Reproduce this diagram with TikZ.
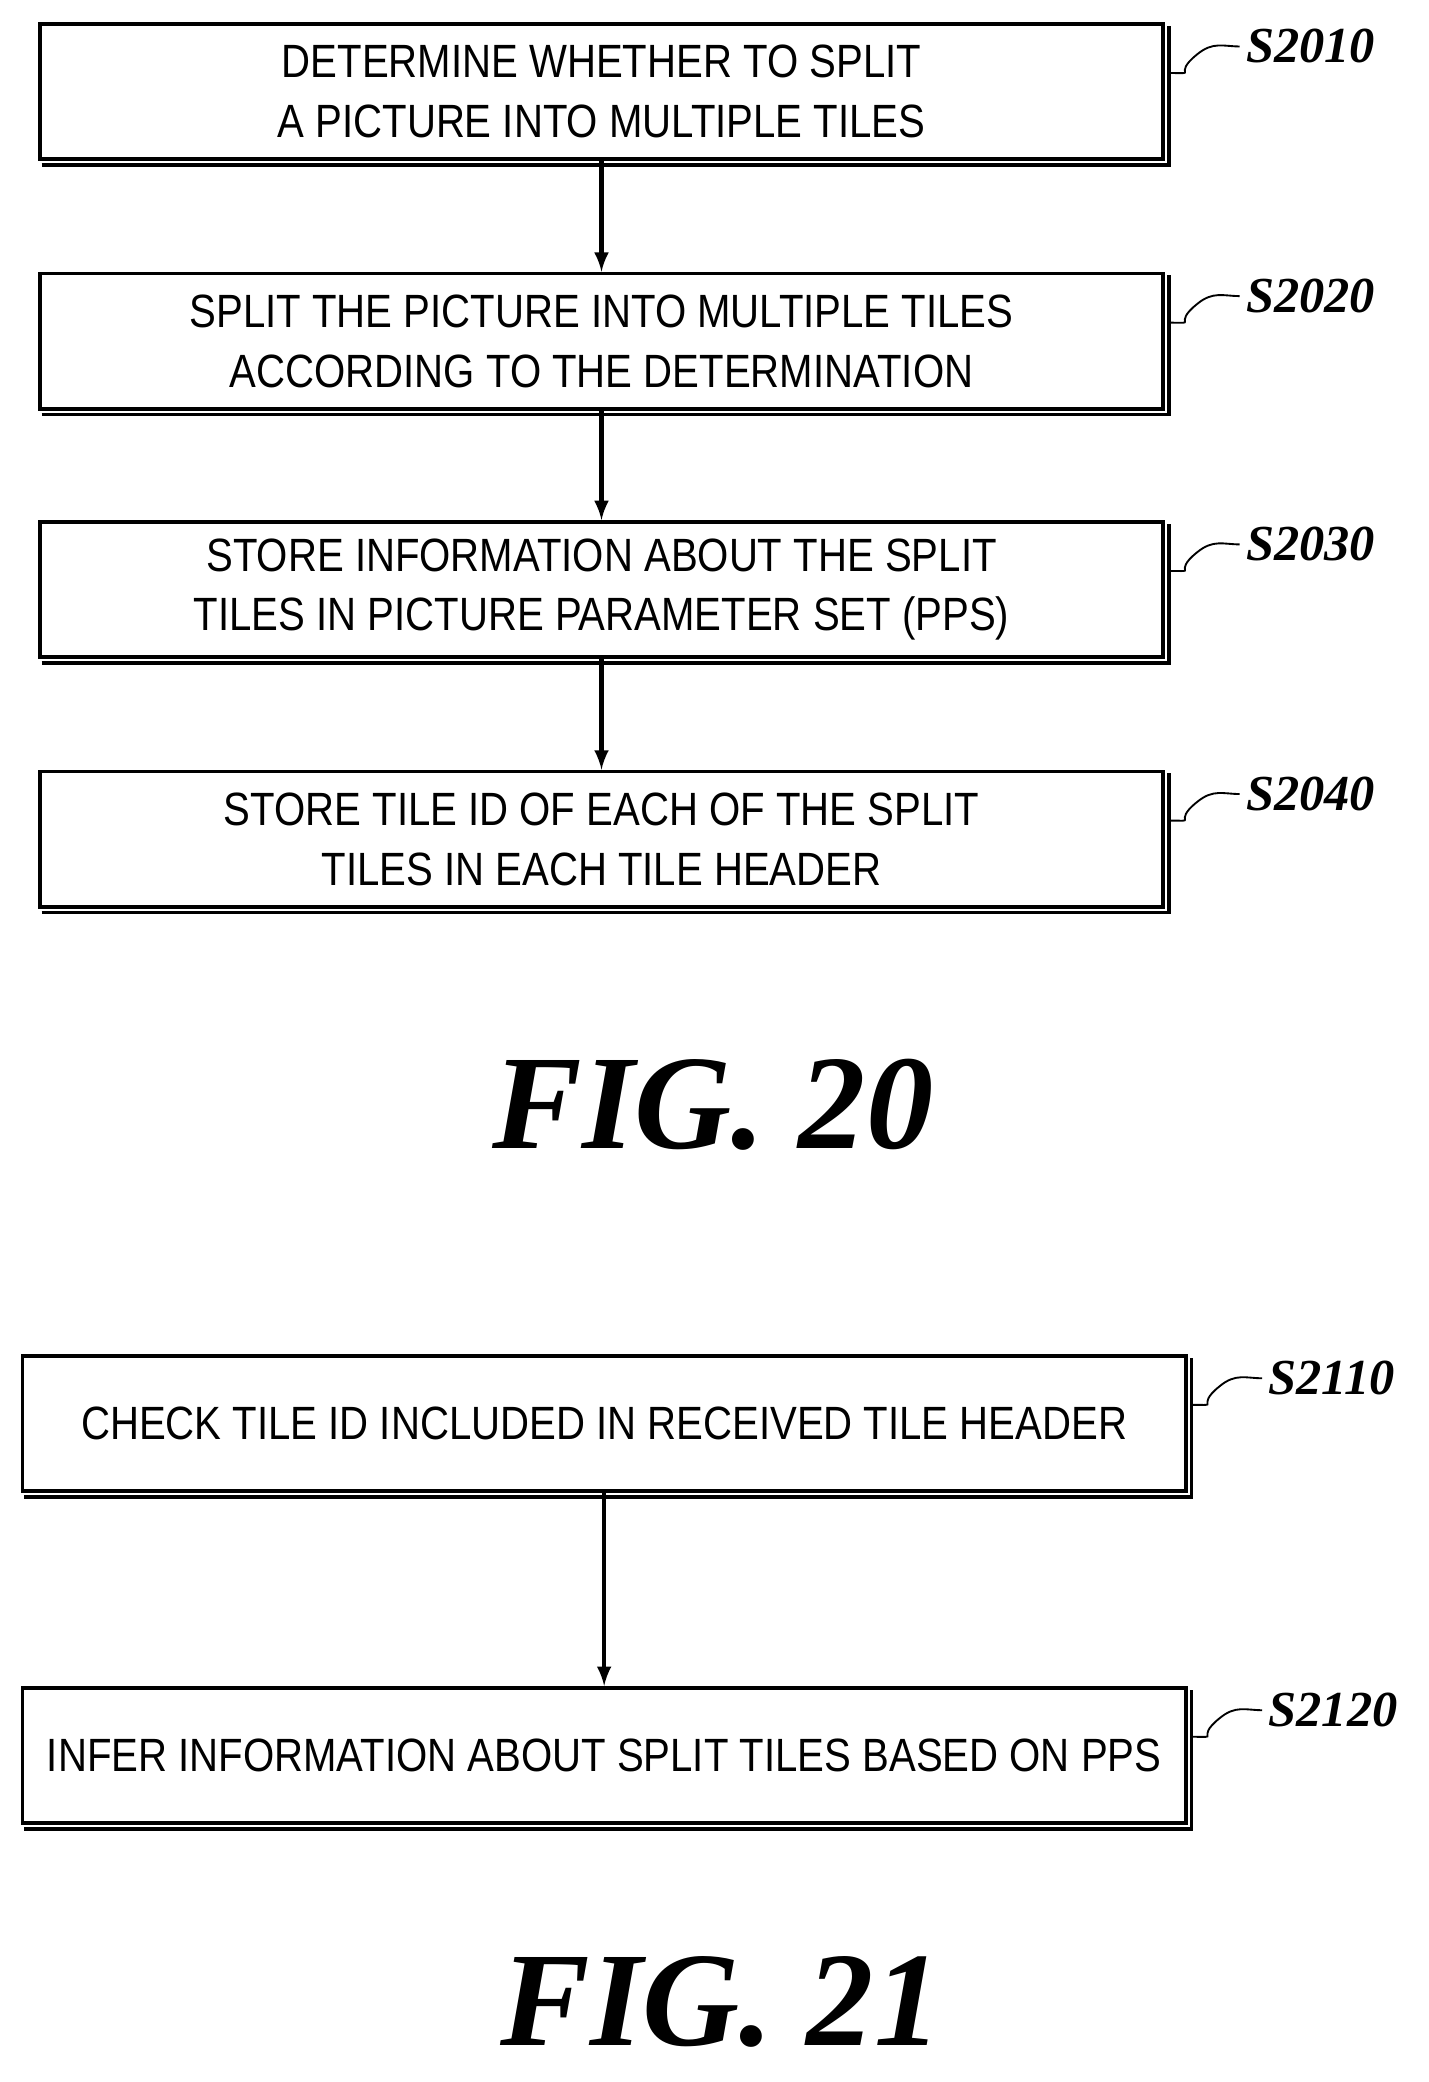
\documentclass[tikz,border=0pt]{standalone}
\usepackage{fontspec}
\setmainfont{Liberation Serif}
\newfontfamily\boxfont[FakeStretch=0.86]{Liberation Sans}
\usetikzlibrary{positioning}
\begin{document}
\begin{tikzpicture}[x=0.025cm,y=-0.025cm,
stepbox/.style={draw,line width=2pt,minimum height=2.55cm,align=center,
  font=\boxfont\fontsize{25}{32}\selectfont,inner sep=0pt},
boxshadow/.style={line width=2pt},
flowarrow/.style={-latex,line width=2.5pt},
steplabel/.style={font=\bfseries\itshape\fontsize{27}{28}\selectfont,anchor=west},
figlabel/.style={font=\bfseries\itshape\fontsize{72}{72}\selectfont}]

\useasboundingbox (0,0) rectangle (1076,1568);

% FIG. 20
\node[stepbox,minimum width=21.15cm] (s2010) at (453,69) {DETERMINE WHETHER TO SPLIT\\A PICTURE INTO MULTIPLE TILES};
\node[stepbox,minimum width=21.15cm] (s2020) at (453,257) {SPLIT THE PICTURE INTO MULTIPLE TILES\\ACCORDING TO THE DETERMINATION};
\node[stepbox,minimum width=21.15cm] (s2030) at (453,444) {STORE INFORMATION ABOUT THE SPLIT\\TILES IN PICTURE PARAMETER SET (PPS)};
\node[stepbox,minimum width=21.15cm] (s2040) at (453,632) {STORE TILE ID OF EACH OF THE SPLIT\\TILES IN EACH TILE HEADER};

% FIG. 21
\node[stepbox,minimum width=21.9cm] (s2110) at (455,1072) {CHECK TILE ID INCLUDED IN RECEIVED TILE HEADER};
\node[stepbox,minimum width=21.9cm] (s2120) at (455,1322) {INFER INFORMATION ABOUT SPLIT TILES BASED ON PPS};

\foreach \s in {s2010,s2020,s2030,s2040,s2110,s2120}
  \draw[boxshadow] ([xshift=2pt,yshift=-2pt]\s.south west) -- ([xshift=2pt,yshift=-2pt]\s.south east)
    -- ([xshift=2pt,yshift=-2pt]\s.north east);

\draw[flowarrow] (s2010) -- (s2020);
\draw[flowarrow] (s2020) -- (s2030);
\draw[flowarrow] (s2030) -- (s2040);
\draw[flowarrow] (s2110) -- (s2120);

% step numbers
\foreach \s/\t in {s2010/S2010,s2020/S2020,s2030/S2030,s2040/S2040,s2110/S2110,s2120/S2120}{
  \node[steplabel] (l\s) at ([xshift=1.4cm,yshift=0.85cm]\s.east) {\t};
  \draw[line width=1pt] ([xshift=2pt,yshift=0.35cm]\s.east) .. controls +(0.6cm,0) and +(-0.5cm,-0.4cm) .. ([xshift=0.6cm,yshift=0.7cm]\s.east)
    .. controls +(0.3cm,0.25cm) and +(-0.3cm,0) .. (l\s.west);
}

\node[figlabel] (fig20) at (537,832) {FIG. 20};
\node[figlabel] (fig21) at (543,1508) {FIG. 21};
\end{tikzpicture}
\end{document}
